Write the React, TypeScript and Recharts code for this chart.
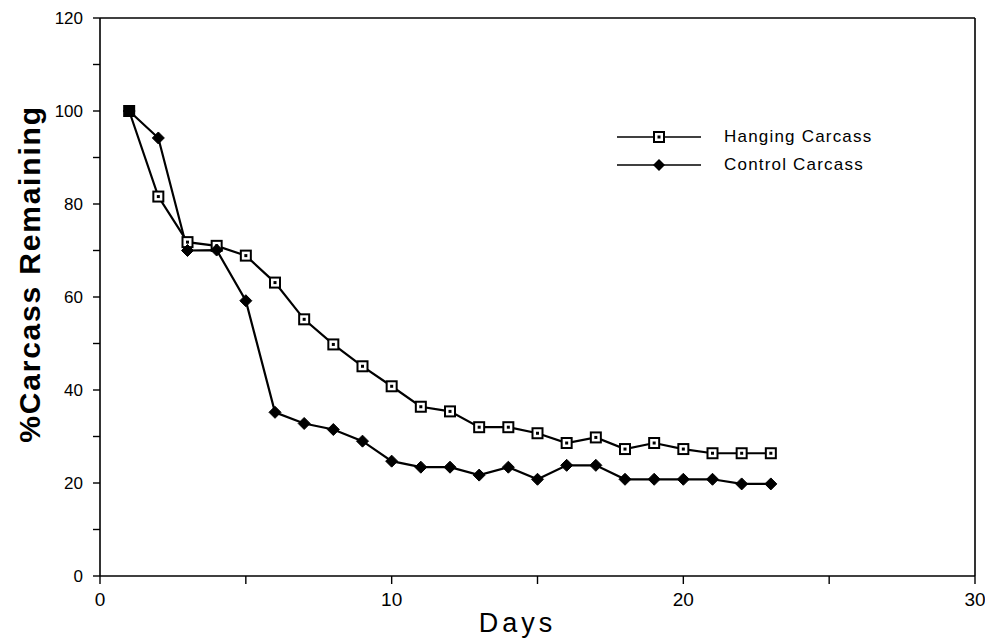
import React from 'react';
import { LineChart, Line, XAxis, YAxis, ReferenceLine, Legend } from 'recharts';

const days = [1, 2, 3, 4, 5, 6, 7, 8, 9, 10, 11, 12, 13, 14, 15, 16, 17, 18, 19, 20, 21, 22, 23];
const hanging = [100, 81.6, 71.8, 71.0, 68.9, 63.1, 55.2, 49.8, 45.1, 40.8, 36.4, 35.4, 32.0, 32.0, 30.7, 28.6, 29.8, 27.3, 28.6, 27.3, 26.4, 26.4, 26.4];
const control = [100, 94.2, 70.0, 70.1, 59.2, 35.2, 32.8, 31.5, 29.0, 24.7, 23.4, 23.4, 21.7, 23.4, 20.8, 23.8, 23.8, 20.8, 20.8, 20.8, 20.8, 19.8, 19.8];
const xTicks = [0, 5, 10, 15, 20, 25, 30];
const yTicks = [0, 10, 20, 30, 40, 50, 60, 70, 80, 90, 100, 110, 120];
const seriesNames = ['Hanging Carcass', 'Control Carcass'];

const data = days.map((d, i) => ({ day: d, hanging: hanging[i], control: control[i] }));

const HangingDot = (props: any) => {
  const { cx, cy, index, payload } = props;
  if (cx == null || cy == null) return <g key={`h-${index}`} />;
  const overlap = payload && payload.hanging === payload.control;
  return (
    <g key={`h-${index}`}>
      <rect x={cx - 5} y={cy - 5} width={10} height={10} fill={overlap ? '#000' : '#fff'} stroke="#000" strokeWidth={2} />
      <rect x={cx - 1.5} y={cy - 1.5} width={3} height={3} fill="#000" />
    </g>
  );
};

const ControlDot = (props: any) => {
  const { cx, cy, index } = props;
  if (cx == null || cy == null) return <g key={`c-${index}`} />;
  const s = 6;
  return (
    <polygon
      key={`c-${index}`}
      points={`${cx},${cy - s} ${cx + s},${cy} ${cx},${cy + s} ${cx - s},${cy}`}
      fill="#000"
      stroke="#000"
      strokeWidth={1}
    />
  );
};

const LegendContent = () => (
  <div style={{ fontFamily: 'Liberation Sans, Arial, sans-serif', fontSize: 17, letterSpacing: 1.2, color: '#000' }}>
    {seriesNames.map((name, i) => (
      <div key={name} style={{ display: 'flex', alignItems: 'center', height: 28 }}>
        <svg width={84} height={16} style={{ display: 'block' }}>
          <line x1={0} y1={8} x2={84} y2={8} stroke="#000" strokeWidth={1.6} />
          {i === 0 ? (
            <g>
              <rect x={37} y={3} width={10} height={10} fill="#fff" stroke="#000" strokeWidth={2} />
              <rect x={40.5} y={6.5} width={3} height={3} fill="#000" />
            </g>
          ) : (
            <polygon points="42,2 48,8 42,14 36,8" fill="#000" />
          )}
        </svg>
        <span style={{ marginLeft: 23 }}>{name}</span>
      </div>
    ))}
  </div>
);

export default function App() {
  return (
    <div style={{ position: 'absolute', left: 0, top: 0, background: '#fff' }}>
      <LineChart width={985} height={641} data={data} margin={{ top: 18, right: 10, bottom: 0, left: 0 }}>
        <XAxis
          dataKey="day"
          type="number"
          domain={[0, 30]}
          ticks={xTicks}
          interval={0}
          height={65}
          tickSize={8}
          tickMargin={9}
          axisLine={{ stroke: '#000', strokeWidth: 1.6 }}
          tickLine={{ stroke: '#000', strokeWidth: 1.4 }}
          tick={{ fill: '#000', fontSize: 19, fontFamily: 'Liberation Sans Narrow, Arial Narrow, Liberation Sans, sans-serif' }}
          tickFormatter={(v: number) => (v % 10 === 0 ? String(v) : '')}
          label={{
            content: (p: any) => {
              const vb = p.viewBox || { x: 100, y: 576, width: 875, height: 65 };
              const cx = vb.x + vb.width / 2 - 20;
              return (
                <text x={cx} y={vb.y + 56} textAnchor="middle" fill="#000"
                  style={{ fontSize: 27, fontFamily: 'Liberation Sans, Arial, sans-serif', letterSpacing: 4 }}>
                  Days
                </text>
              );
            },
          }}
        />
        <YAxis
          type="number"
          domain={[0, 120]}
          ticks={yTicks}
          interval={0}
          width={100}
          tickSize={7}
          tickMargin={10}
          axisLine={{ stroke: '#000', strokeWidth: 1.6 }}
          tickLine={{ stroke: '#000', strokeWidth: 1.4 }}
          tick={{ fill: '#000', fontSize: 17, fontFamily: 'Liberation Sans, Arial, sans-serif' }}
          tickFormatter={(v: number) => (v % 20 === 0 ? String(v) : '')}
          label={{
            content: (p: any) => {
              const vb = p.viewBox || { x: 0, y: 18, width: 100, height: 558 };
              const x = vb.x + 29;
              const y = vb.y + vb.height / 2 - 23;
              return (
                <text x={x} y={y} transform={`rotate(-90 ${x} ${y})`} textAnchor="middle" dominantBaseline="central" fill="#000"
                  style={{ fontSize: 30, fontWeight: 'bold', fontFamily: 'Liberation Sans, Arial, sans-serif', letterSpacing: 1.8 }}>
                  %Carcass Remaining
                </text>
              );
            },
          }}
        />
        <ReferenceLine y={120} stroke="#000" strokeWidth={1.6} />
        <ReferenceLine x={30} stroke="#000" strokeWidth={1.6} />
        <Legend
          layout="horizontal"
          verticalAlign="middle"
          align="center"
          content={<LegendContent />}
          wrapperStyle={{ position: 'absolute', left: 617, top: 123, width: 300 }}
        />
        <Line
          dataKey="hanging"
          name={seriesNames[0]}
          stroke="#000"
          strokeWidth={2.2}
          dot={HangingDot}
          activeDot={false}
          isAnimationActive={false}
        />
        <Line
          dataKey="control"
          name={seriesNames[1]}
          stroke="#000"
          strokeWidth={2.2}
          dot={ControlDot}
          activeDot={false}
          isAnimationActive={false}
        />
      </LineChart>
    </div>
  );
}
